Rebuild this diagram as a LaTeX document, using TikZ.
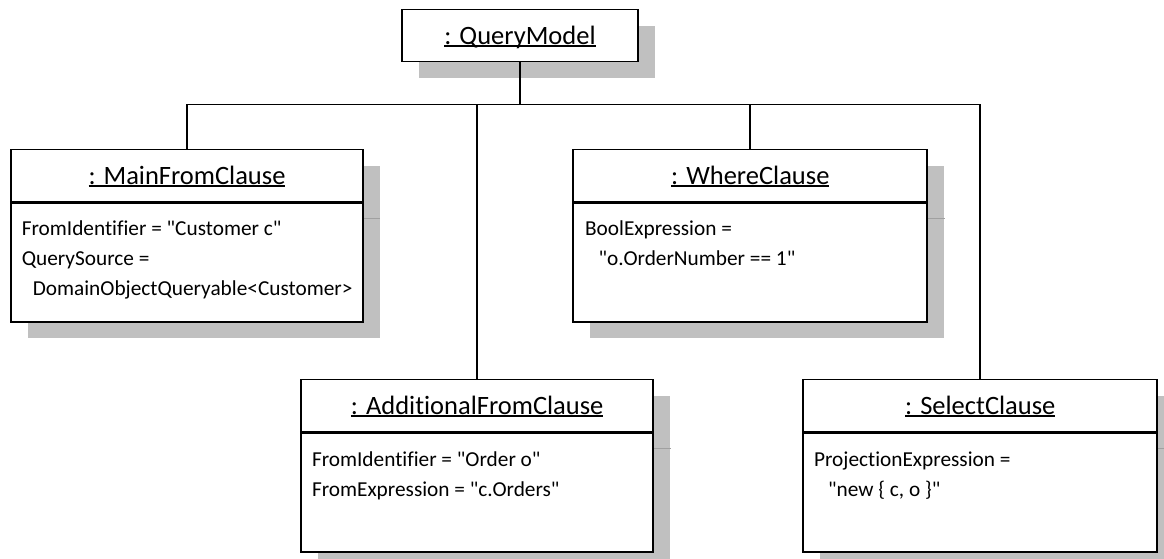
\documentclass[tikz,border=0pt]{standalone}
\usepackage{fontspec}
\setmainfont{Carlito}[Ligatures={TeXOff,CommonOff}]
\usetikzlibrary{shadows}
\definecolor{shadowgray}{RGB}{192,192,192}
\definecolor{shadowline}{RGB}{160,160,160}
\newcommand{\objname}[1]{\setbox0\hbox{#1}\rlap{\rule[-3pt]{\wd0}{1.6pt}}\box0}

\begin{document}
\begin{tikzpicture}[x=1pt,y=-1pt,
  objshadow/.style={drop shadow={shadow xshift=16.5pt,shadow yshift=-16pt,fill=shadowgray,opacity=1}},
  objhead/.style={draw,line width=1.8pt,fill=white,objshadow,minimum height=52pt,inner sep=0pt,
    text height=17pt,text depth=0pt,font=\fontsize{26.5}{30}\selectfont},
  objbody/.style={draw,line width=1.8pt,fill=white,objshadow,minimum height=119pt,inner sep=0pt,anchor=north},
  attrs/.style={anchor=north west,inner sep=0pt,align=left,font=\fontsize{21.3}{30}\selectfont},
  link/.style={line width=1.8pt},
  divshade/.style={draw=shadowline,line width=1pt}]
  \useasboundingbox (0,0) rectangle (1164,558);

  % query model
  \node[objhead,minimum width=236pt] (qm) at (520,35.5) {\objname{: QueryModel}};
  \coordinate (bus) at (520,104.5);

  % clauses
  \node[objhead,minimum width=352pt] (mfc) at (187,175.5) {\objname{: MainFromClause}};
  \node[objbody,minimum width=352pt] (mfcbody) at (mfc.south) {};
  \node[attrs] (mfcattr) at ([shift={(11.5,18)}]mfcbody.north west)
    {FromIdentifier = "Customer c"\\QuerySource =\\\hspace*{11pt}DomainObjectQueryable<Customer>};

  \node[objhead,minimum width=354pt] (wc) at (750.3,175.5) {\objname{: WhereClause}};
  \node[objbody,minimum width=354pt] (wcbody) at (wc.south) {};
  \node[attrs] (wcattr) at ([shift={(12.5,18)}]wcbody.north west)
    {BoolExpression =\\\hspace*{13.5pt}"o.OrderNumber == 1"};

  \node[objhead,minimum width=352pt] (afc) at (477.2,405.5) {\objname{: AdditionalFromClause}};
  \node[objbody,minimum width=352pt] (afcbody) at (afc.south) {};
  \node[attrs] (afcattr) at ([shift={(11.5,19)}]afcbody.north west)
    {FromIdentifier = "Order o"\\FromExpression = "c.Orders"};

  \node[objhead,minimum width=354pt] (sc) at (980.3,405.5) {\objname{: SelectClause}};
  \node[objbody,minimum width=354pt] (scbody) at (sc.south) {};
  \node[attrs] (scattr) at ([shift={(11.5,19)}]scbody.north west)
    {ProjectionExpression =\\\hspace*{14pt}"new \{ c, o \}"};

  % shadow of the dividers
  \foreach \n in {mfc,wc,afc,sc}
    \draw[divshade] ([shift={(0,16)}]\n.south east) -- ++(16.5,0);

  % links
  \draw[link] (qm.south) -- (qm.south |- bus);
  \draw[link] (mfc.north) |- (sc.north |- bus) -- (sc.north);
  \draw[link] (wc.north) -- (wc.north |- bus);
  \draw[link] (afc.north) -- (afc.north |- bus);
\end{tikzpicture}
\end{document}
